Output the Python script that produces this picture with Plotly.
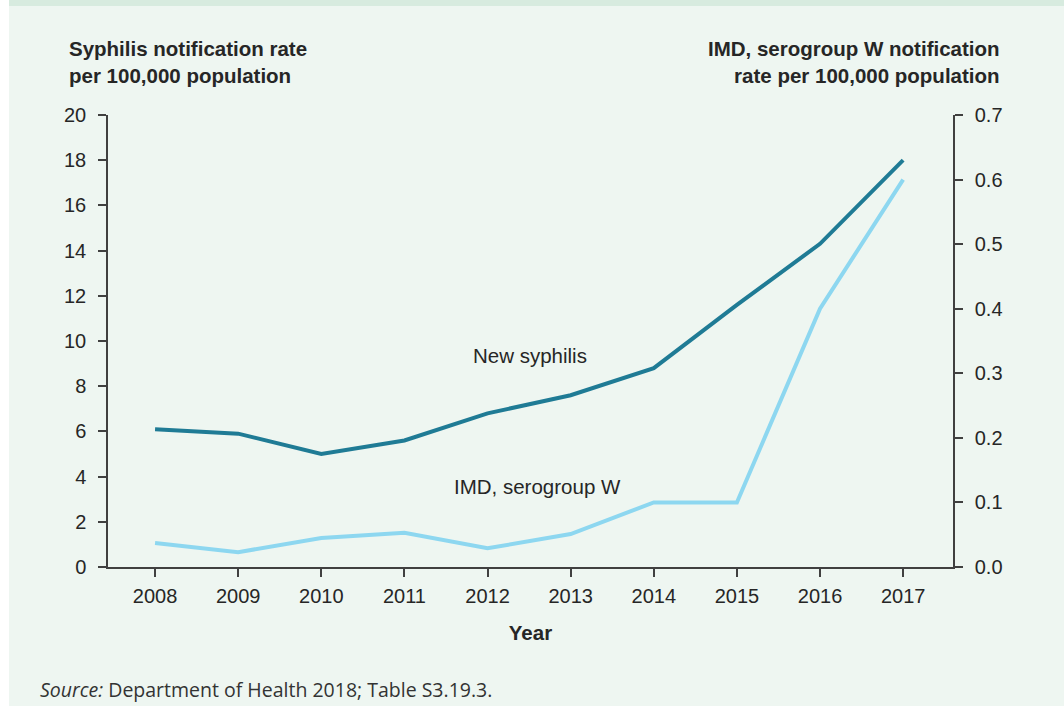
import plotly.graph_objects as go

years = ["2008", "2009", "2010", "2011", "2012", "2013", "2014", "2015", "2016", "2017"]
syphilis = [6.1, 5.9, 5.0, 5.6, 6.8, 7.6, 8.8, 11.6, 14.3, 18.0]
imd_w = [0.037, 0.023, 0.045, 0.053, 0.029, 0.051, 0.100, 0.100, 0.400, 0.600]
left_ticks = [0, 2, 4, 6, 8, 10, 12, 14, 16, 18, 20]
right_ticks = [0.0, 0.1, 0.2, 0.3, 0.4, 0.5, 0.6, 0.7]

W, H = 1064, 706
L, R, T, B = 108, 111, 115, 139
pw, ph = W - L - R, H - T - B

def px(x):
    return (x - L) / pw

def py(y):
    return (H - B - y) / ph

FONT = "Liberation Sans, Arial, sans-serif"
TXT = "#262626"
AX = "#404040"
FS = 20.5
TFS = 20

fig = go.Figure()
fig.add_trace(go.Scatter(x=years, y=syphilis, mode="lines", name="New syphilis",
                         line=dict(color="#1f7b95", width=4), yaxis="y"))
fig.add_trace(go.Scatter(x=years, y=imd_w, mode="lines", name="IMD, serogroup W",
                         line=dict(color="#8dd7f0", width=4), yaxis="y2"))

axis_common = dict(showgrid=False, zeroline=False, showline=True, linecolor=AX, linewidth=1.5,
                   ticks="outside", ticklen=8, tickcolor=AX, tickwidth=1.5,
                   tickfont=dict(family=FONT, size=TFS, color=TXT))

fig.update_layout(
    width=W, height=H,
    margin=dict(l=L, r=R, t=T, b=B, pad=0),
    paper_bgcolor="white",
    plot_bgcolor="rgba(0,0,0,0)",
    showlegend=False,
    font=dict(family=FONT, size=FS, color=TXT),
    xaxis=dict(type="category", range=[-0.566, 9.6], ticklabelstandoff=2,
               title=dict(text="<b>Year</b>", font=dict(family=FONT, size=FS, color=TXT), standoff=20),
               **axis_common),
    yaxis=dict(range=[0, 20], tickvals=left_ticks, ticklabelstandoff=8, **axis_common),
    yaxis2=dict(range=[0, 0.7], tickvals=right_ticks, tickformat=".1f", overlaying="y", side="right",
                ticklabelstandoff=8, **axis_common),
)

# panel background and top stripe
fig.add_shape(type="rect", xref="paper", yref="paper", layer="below",
              x0=px(9), x1=px(W + 5), y0=py(H + 5), y1=py(0),
              fillcolor="#eef6f1", line=dict(width=0))
fig.add_shape(type="rect", xref="paper", yref="paper", layer="below",
              x0=px(9), x1=px(W + 5), y0=py(6), y1=py(-5),
              fillcolor="#d7ebdf", line=dict(width=0))

ann = [
    dict(x=px(67), y=py(62), text="<b>Syphilis notification rate<br>per 100,000 population</b>",
         xanchor="left", yanchor="middle", align="left"),
    dict(x=px(1002), y=py(62), text="<b>IMD, serogroup W notification<br>rate per 100,000 population</b>",
         xanchor="right", yanchor="middle", align="right"),
    dict(x=px(530), y=py(355), text="New syphilis", xanchor="center", yanchor="middle"),
    dict(x=px(537), y=py(486), text="IMD, serogroup W", xanchor="center", yanchor="middle"),
]
for a in ann:
    fig.add_annotation(xref="paper", yref="paper", showarrow=False,
                       font=dict(family=FONT, size=FS, color=TXT), **a)

fig.add_annotation(xref="paper", yref="paper", showarrow=False,
                   x=px(38), y=py(689), xanchor="left", yanchor="middle",
                   text="<i>Source:</i> Department of Health 2018; Table S3.19.3.",
                   font=dict(family="Open Sans, Noto Sans, sans-serif", size=19.5, color="#333333"))

fig.write_html("out.html", config={"displayModeBar": False},
               post_script="document.body.style.margin='0';document.body.style.overflow='hidden';")
